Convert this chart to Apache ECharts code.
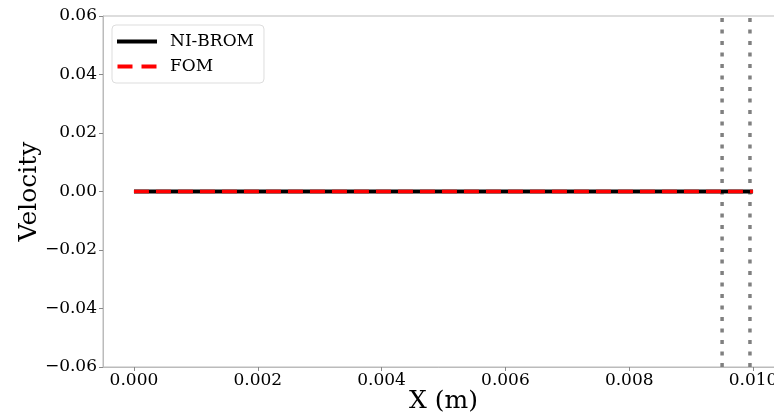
<!DOCTYPE html>
<html>
<head>
<meta charset="utf-8">
<script src="https://cdn.jsdelivr.net/npm/echarts@6/dist/echarts.min.js"></script>
<style>
  html, body { margin: 0; padding: 0; background: #fff; }
  #chart { width: 774px; height: 416px; }
</style>
</head>
<body>
<div id="chart"></div>
<script>
// Velocity profiles along the domain
const xPositions = [0, 0.001, 0.002, 0.003, 0.004, 0.005, 0.006, 0.007, 0.008, 0.009, 0.010];
const niBromVelocity = [0, 0, 0, 0, 0, 0, 0, 0, 0, 0, 0];
const fomVelocity = [0, 0, 0, 0, 0, 0, 0, 0, 0, 0, 0];
const xTickValues = [0, 0.002, 0.004, 0.006, 0.008, 0.010];
const probeLines = [0.0095, 0.00995];

const serif = '"DejaVu Serif", serif';
const minus = s => s.replace('-', '\u2212');

// vertical dotted marker lines spanning the full y range
const probeSeries = probeLines.map((x, i) => ({
  name: 'probe' + i, type: 'line', symbol: 'none', silent: true,
  data: [[x, -0.06], [x, 0.06]],
  lineStyle: { color: '#808080', width: 3.5, type: [4, 7.5] },
  z: 1
}));

const chart = echarts.init(document.getElementById('chart'));
chart.setOption({
  animation: false,
  backgroundColor: '#fff',
  grid: {
    left: 103, top: 16, width: 681, height: 351,
    outerBoundsMode: 'none', containLabel: false,
    show: true, borderColor: '#bbbbbb', borderWidth: 1, backgroundColor: 'transparent'
  },
  legend: {
    left: 112, top: 25, orient: 'vertical',
    padding: [8, 10, 8, 5],
    itemWidth: 40, itemHeight: 4, itemGap: 8,
    borderColor: '#dddddd', borderWidth: 1, borderRadius: 4,
    backgroundColor: '#fff',
    textStyle: { fontFamily: serif, fontSize: 17, color: '#000', padding: [0, 0, 0, 8] },
    data: [
      { name: 'NI-BROM', icon: 'path://M0,0H40V4H0Z', itemStyle: { color: '#000' } },
      { name: 'FOM', icon: 'path://M0,0H15V4H0Z M24,0H39V4H24Z', itemStyle: { color: '#ff0000' } }
    ]
  },
  xAxis: {
    type: 'value', min: -0.0005, max: 0.0105,
    name: 'X (m)', nameLocation: 'middle', nameGap: 22, nameMoveOverlap: false,
    nameTextStyle: { fontFamily: serif, fontSize: 25, color: '#000' },
    axisLine: { show: true, onZero: false, lineStyle: { color: '#bbbbbb', width: 1 } },
    axisTick: { show: true, length: 4, lineStyle: { color: '#888' }, customValues: xTickValues },
    axisLabel: {
      fontFamily: serif, fontSize: 17, color: '#000', margin: 5,
      customValues: xTickValues,
      formatter: v => minus(v.toFixed(3))
    },
    splitLine: { show: false }
  },
  yAxis: {
    type: 'value', min: -0.06, max: 0.06, interval: 0.02,
    name: 'Velocity', nameLocation: 'middle', nameGap: 61, nameMoveOverlap: false,
    nameTextStyle: { fontFamily: serif, fontSize: 25, color: '#000' },
    axisLine: { show: true, onZero: false, lineStyle: { color: '#bbbbbb', width: 1 } },
    axisTick: { show: true, length: 4, lineStyle: { color: '#888' } },
    axisLabel: {
      fontFamily: serif, fontSize: 17, color: '#000', margin: 6,
      formatter: v => minus((Math.abs(v) < 1e-12 ? 0 : v).toFixed(2))
    },
    splitLine: { show: false }
  },
  series: [
    {
      name: 'NI-BROM', type: 'line', symbol: 'none',
      data: xPositions.map((x, i) => [x, niBromVelocity[i]]),
      lineStyle: { color: '#000', width: 4 },
      itemStyle: { color: '#000' },
      z: 2
    },
    {
      name: 'FOM', type: 'line', symbol: 'none',
      data: xPositions.map((x, i) => [x, fomVelocity[i]]),
      lineStyle: { color: '#ff0000', width: 3.5, type: [15, 7] },
      itemStyle: { color: '#ff0000' },
      z: 3
    },
    ...probeSeries
  ]
});
</script>
</body>
</html>
